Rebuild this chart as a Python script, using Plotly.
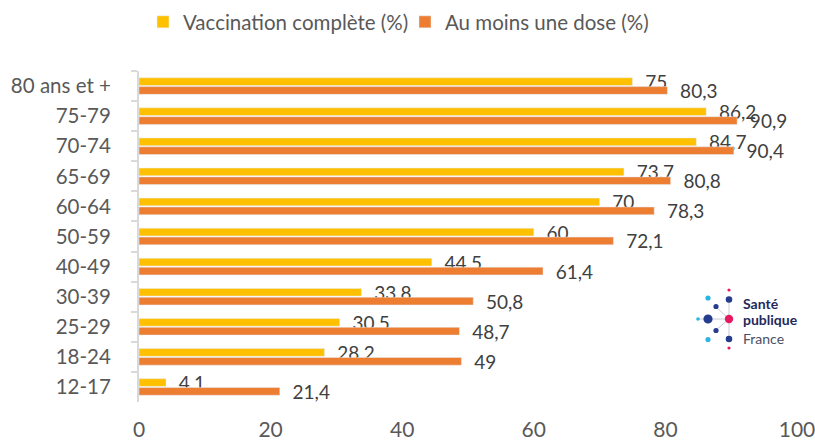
import plotly.graph_objects as go

categories = ["80 ans et +", "75-79", "70-74", "65-69", "60-64", "50-59",
              "40-49", "30-39", "25-29", "18-24", "12-17"]
complete = [75, 86.2, 84.7, 73.7, 70, 60, 44.5, 33.8, 30.5, 28.2, 4.1]
one_dose = [80.3, 90.9, 90.4, 80.8, 78.3, 72.1, 61.4, 50.8, 48.7, 49, 21.4]
x_ticks = [0, 20, 40, 60, 80, 100]

W, H = 815, 441
L, R, T, B = 139, 18, 71, 39
PW, PH = W - L - R, H - T - B
FONT = "Lato"
PAD = "\u00a0" * 2


def fmt(v):
    return PAD + f"{v:g}".replace(".", ",")


fig = go.Figure()
fig.add_trace(go.Bar(
    y=categories, x=complete, orientation="h", name="Vaccination complète (%)",
    marker=dict(color="#FFC000"), text=[fmt(v) for v in complete],
    textposition="outside", cliponaxis=False, constraintext="none",
    textfont=dict(family=FONT, size=19, color="#404040"),
))
fig.add_trace(go.Bar(
    y=categories, x=one_dose, orientation="h", name="Au moins une dose (%)",
    marker=dict(color="#ED7D31"), text=[fmt(v) for v in one_dose],
    textposition="outside", cliponaxis=False, constraintext="none",
    textfont=dict(family=FONT, size=19, color="#404040"),
))


def px(x):
    return (x - L) / PW


def py(y):
    return (H - B - y) / PH


shapes = []
navy = "#263C8F"
light = "#2BB5E6"
pink = "#E6195F"
center = (729, 319)
spokes = [(729, 299), (708, 319), (729, 339), (716, 307), (716, 330)]
for sx, sy in spokes:
    shapes.append(dict(type="line", xref="paper", yref="paper",
                       x0=px(center[0]), y0=py(center[1]), x1=px(sx), y1=py(sy),
                       line=dict(color="#C8CCD8", width=1)))
shapes.append(dict(type="line", xref="paper", yref="paper",
                   x0=px(698), y0=py(319), x1=px(708), y1=py(319),
                   line=dict(color="#C8CCD8", width=1)))
dots = [
    (729, 290, 1.6, pink), (729, 299.5, 3.3, navy), (708, 298, 2.6, light),
    (716, 306.5, 2.6, navy), (708, 319, 4.6, navy), (698, 319, 1.8, light),
    (729, 319, 4.2, pink), (716, 330.5, 2.6, navy), (708, 339.5, 2.6, light),
    (729, 339, 3.3, navy), (729, 348, 1.6, pink),
]
for cx, cy, r, c in dots:
    shapes.append(dict(type="circle", xref="paper", yref="paper",
                       x0=px(cx - r), x1=px(cx + r), y0=py(cy + r), y1=py(cy - r),
                       fillcolor=c, line=dict(width=0)))

annotations = [
    dict(text="<b>Santé</b>", x=px(741), y=py(303), xref="paper", yref="paper",
         xanchor="left", yanchor="middle", showarrow=False,
         font=dict(family=FONT, size=14, color="#1F2A5C")),
    dict(text="<b>publique</b>", x=px(741), y=py(319), xref="paper", yref="paper",
         xanchor="left", yanchor="middle", showarrow=False,
         font=dict(family=FONT, size=14, color="#1F2A5C")),
    dict(text="France", x=px(741), y=py(338), xref="paper", yref="paper",
         xanchor="left", yanchor="middle", showarrow=False,
         font=dict(family=FONT, size=14, color="#4A4F66")),
]

fig.update_layout(
    width=W, height=H,
    margin=dict(l=L, r=R, t=T, b=B, pad=0, autoexpand=False),
    paper_bgcolor="white", plot_bgcolor="white",
    barmode="group", bargap=0.41, bargroupgap=0.13,
    font=dict(family=FONT, color="#595959"),
    legend=dict(orientation="h", x=px(143), xanchor="left", y=py(22),
                yanchor="middle", font=dict(family=FONT, size=20.5, color="#595959"),
                traceorder="normal", itemwidth=30, entrywidth=217),
    shapes=shapes, annotations=annotations,
    xaxis=dict(range=[0, 100], tickvals=x_ticks, showgrid=False, zeroline=False,
               showline=False, ticks="", automargin=False, ticklabeloverflow="allow",
               ticklabelstandoff=13,
               tickfont=dict(family=FONT, size=21, color="#595959")),
    yaxis=dict(type="category", autorange="reversed", showgrid=False, zeroline=False,
               showline=True, linecolor="#D9D9D9", linewidth=2, automargin=False,
               ticks="outside", tickson="boundaries", ticklen=6, tickcolor="#D9D9D9",
               tickwidth=2, ticklabelstandoff=22,
               tickfont=dict(family=FONT, size=20.5, color="#595959")),
)

fig.write_html("out.html", config={"displayModeBar": False},
               post_script="document.body.style.margin='0';document.body.style.overflow='hidden';")
